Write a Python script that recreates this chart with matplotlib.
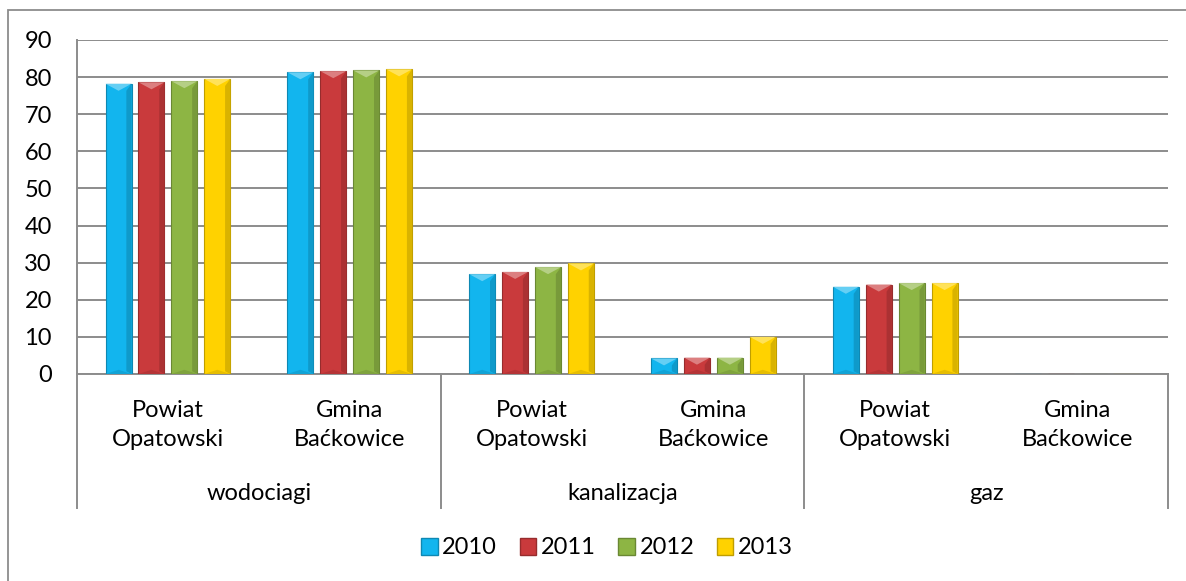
import numpy as np
import matplotlib.pyplot as plt
from matplotlib.patches import Patch, Rectangle
from matplotlib.transforms import blended_transform_factory
from matplotlib.colors import to_rgb

plt.rcParams["font.family"] = ["Lato", "DejaVu Sans"]

# data
groups = ["wodociagi", "kanalizacja", "gaz"]
units = ["Powiat\nOpatowski", "Gmina\nBaćkowice"]
years = ["2010", "2011", "2012", "2013"]
v2010 = [78.2, 81.3, 26.9, 4.2, 23.5, 0]
v2011 = [78.6, 81.6, 27.5, 4.4, 24.1, 0]
v2012 = [78.9, 81.8, 28.8, 4.4, 24.5, 0]
v2013 = [79.5, 82.1, 29.8, 10.0, 24.5, 0]
series = [v2010, v2011, v2012, v2013]
colors = ["#12b5ee", "#c93a3c", "#8db544", "#ffd200"]

W, H = 1186, 581
fs = 17
fig = plt.figure(figsize=(W / 100, H / 100), dpi=100)
# outer chart border (right/bottom edges fall outside the image)
fig.patches.append(Rectangle((8 / W, -0.2), 1.2, 1.2 - 10 / H, transform=fig.transFigure,
                             fill=False, edgecolor="#8c8c8c", lw=1.3))

ax = fig.add_axes([77 / W, (H - 374) / H, 1091 / W, 334 / H])
n_sub = len(groups) * len(units)
xc = np.arange(n_sub) + 0.5
pitch = 0.181
bw = 0.143
grey = "#8c8c8c"


def shade(c, f):
    r = np.array(to_rgb(c))
    return tuple(np.clip(r * f if f < 1 else r + (1 - r) * (f - 1), 0, 1))


px = 90 / 334  # data units per pixel
for i, (vals, c) in enumerate(zip(series, colors)):
    xs = xc + (i - 1.5) * pitch
    bars = ax.bar(xs, vals, width=bw, color=c, edgecolor=shade(c, 0.75), lw=0.8, zorder=3)
    for b in bars:
        h = b.get_height()
        if h <= 0:
            continue
        x0, w = b.get_x(), b.get_width()
        t = min(7 * px, h / 2)
        ax.fill([x0, x0 + w, x0 + w / 2], [h, h, h - t], color=shade(c, 1.35), lw=0, zorder=4)
        ax.fill([x0, x0 + w, x0 + w / 2], [0, 0, t * 0.6], color=shade(c, 0.9), lw=0, zorder=4)
        ax.fill([x0 + w * 0.8, x0 + w, x0 + w, x0 + w * 0.8], [t * 0.4, 0, h, h - t],
                color=shade(c, 0.85), lw=0, zorder=4)

ax.set_xlim(0, n_sub)
ax.set_ylim(0, 90)
ax.set_yticks(np.arange(0, 91, 10))
ax.yaxis.grid(True, color=grey, lw=1.4, zorder=0)
ax.set_axisbelow(True)
ax.tick_params(axis="y", length=0, pad=18, labelsize=fs)
ax.tick_params(axis="x", length=0, labelbottom=False)
for s in ["top", "right"]:
    ax.spines[s].set_visible(False)
for s in ["left", "bottom"]:
    ax.spines[s].set_color(grey)
    ax.spines[s].set_linewidth(1.4)

# two-level category axis
tr = blended_transform_factory(ax.transData, ax.transAxes)
sub_labels = units * len(groups)
for x, lab in zip(xc, sub_labels):
    ax.text(x, -51 / 334, lab, transform=tr, ha="center", va="center",
            fontsize=fs, linespacing=1.5)
for k, g in enumerate(groups):
    ax.text(2 * k + 1, -119 / 334, g, transform=tr, ha="center", va="center", fontsize=fs)
for xb in range(0, n_sub + 1, 2):
    ax.plot([xb, xb], [0, -134 / 334], transform=tr, color=grey, lw=1.4, clip_on=False)

handles = [Patch(facecolor=c, edgecolor=shade(c, 0.75), label=y) for c, y in zip(colors, years)]
fig.legend(handles=handles, loc="center", bbox_to_anchor=(607 / W, 1 - 548 / H), ncol=4,
           frameon=False, fontsize=fs, handlelength=0.7, handleheight=0.7,
           handletextpad=0.2, columnspacing=0.95)

fig.savefig("out.png", dpi=100)
